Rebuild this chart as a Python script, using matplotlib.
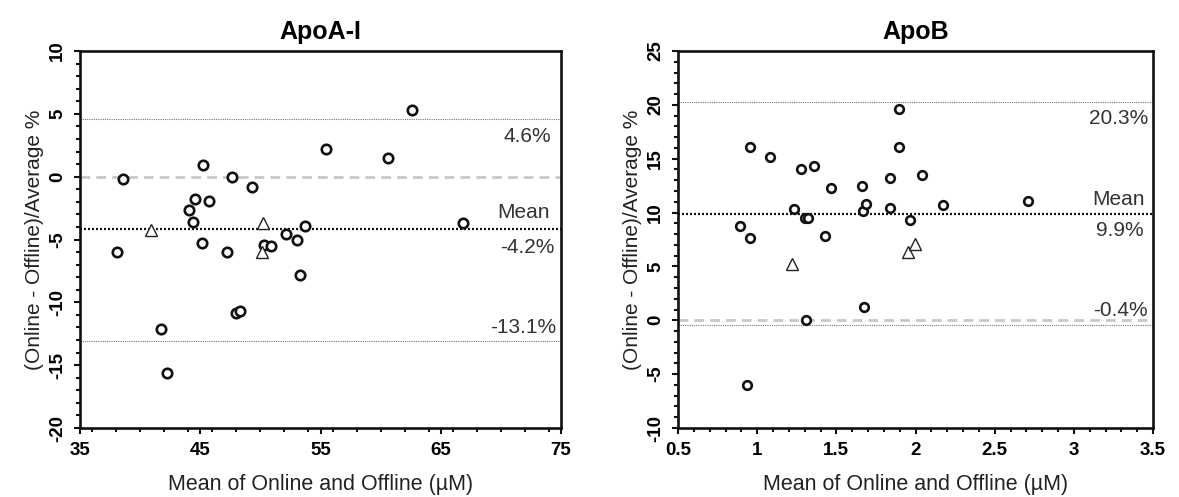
import matplotlib
matplotlib.use("Agg")
import matplotlib.pyplot as plt
from matplotlib.ticker import MultipleLocator

plt.rcParams['font.family'] = ['Liberation Sans', 'DejaVu Sans']
plt.rcParams['axes.unicode_minus'] = False

# ---------------- data ----------------
apoa_circ_x = [38.6, 38.1, 41.75, 42.25, 44.07, 44.54, 44.38, 45.23, 45.13, 45.76,
               47.24, 47.61, 47.96, 48.33, 49.27, 50.28, 50.9, 52.1, 53.04, 53.26,
               53.73, 55.45, 60.63, 62.64, 66.84]
apoa_circ_y = [-0.2, -6.0, -12.1, -15.65, -2.67, -1.81, -3.6, 0.93, -5.25, -1.95,
               -5.97, -0.05, -10.88, -10.67, -0.85, -5.41, -5.52, -4.53, -5.07, -7.84,
               -3.92, 2.21, 1.49, 5.33, -3.65]
apoa_tri_x = [40.93, 50.22, 50.12]
apoa_tri_y = [-4.21, -3.65, -6.0]
apoa_stats = {"upper": 4.6, "mean": -4.2, "lower": -13.1}
apoa_xticks = [35, 45, 55, 65, 75]
apoa_xticklabels = ["35", "45", "55", "65", "75"]
apoa_yticks = [-20, -15, -10, -5, 0, 5, 10]
apoa_yticklabels = ["-20", "-15", "-10", "-5", "0", "5", "10"]

apob_circ_x = [0.892, 0.953, 0.956, 0.934, 1.084, 1.233, 1.276, 1.305, 1.321, 1.307,
               1.362, 1.43, 1.466, 1.661, 1.67, 1.687, 1.677, 1.836, 1.836, 1.896,
               1.893, 1.967, 2.038, 2.171, 2.712]
apob_circ_y = [8.75, 7.64, 16.1, -6.05, 15.2, 10.3, 14.03, 9.49, 9.49, 0.0,
               14.34, 7.85, 12.24, 12.49, 10.17, 10.82, 1.24, 13.23, 10.42, 19.66,
               16.1, 9.34, 13.5, 10.67, 11.07]
apob_tri_x = [1.219, 1.95, 1.998]
apob_tri_y = [5.2, 6.37, 7.05]
apob_stats = {"upper": 20.3, "mean": 9.9, "lower": -0.4}
apob_xticks = [0.5, 1, 1.5, 2, 2.5, 3, 3.5]
apob_xticklabels = ["0.5", "1", "1.5", "2", "2.5", "3", "3.5"]
apob_yticks = [-10, -5, 0, 5, 10, 15, 20, 25]
apob_yticklabels = ["-10", "-5", "0", "5", "10", "15", "20", "25"]

titles = ["ApoA-I", "ApoB"]
xlabel = "Mean of Online and Offline (\u00b5M)"
ylabel = "(Online - Offline)/Average %"

W, H = 1179, 497
fig = plt.figure(figsize=(W / 100, H / 100), dpi=100)
fig.patch.set_facecolor("white")

TICK_FS = 13.5


def px_axes(x0, x1, y0, y1):
    return fig.add_axes([x0 / W, 1 - y1 / H, (x1 - x0) / W, (y1 - y0) / H])


def style_axes(ax, xlim, ylim, xticks, xticklabels, xmin, yticks, yticklabels, ymin):
    for s in ax.spines.values():
        s.set_linewidth(1.9)
        s.set_color("#111111")
    ax.tick_params(which="both", direction="out", width=1.5, color="#111111",
                   labelsize=TICK_FS)
    ax.tick_params(which="major", length=4)
    ax.tick_params(which="minor", length=3)
    ax.tick_params(axis="x", which="major", pad=6)
    ax.tick_params(axis="y", which="major", pad=6)
    ax.set_xticks(xticks)
    ax.set_xticklabels(xticklabels, fontweight="bold", fontsize=TICK_FS)
    ax.set_yticks(yticks)
    ax.set_yticklabels(yticklabels, fontweight="bold", fontsize=TICK_FS,
                       rotation=90, va="center", ha="right")
    ax.xaxis.set_minor_locator(MultipleLocator(xmin))
    ax.yaxis.set_minor_locator(MultipleLocator(ymin))
    ax.set_xlim(*xlim)
    ax.set_ylim(*ylim)
    ax.set_xlabel(xlabel, fontsize=15.5, color="#222222", labelpad=11)
    ax.set_ylabel(ylabel, fontsize=15, color="#222222", labelpad=4)


def draw_panel(ax, cx, cy, tx, ty, stats, ms_c):
    ax.axhline(0, color="#c8c8c8", lw=2.0, dashes=(3.5, 2.2), zorder=1)
    ax.axhline(stats["upper"], color="#777777", lw=0.8, dashes=(1, 1), zorder=1)
    ax.axhline(stats["lower"], color="#777777", lw=0.8, dashes=(1, 1), zorder=1)
    ax.axhline(stats["mean"], color="#111111", lw=1.6, dashes=(0.9, 0.9), zorder=1)
    ax.plot(cx, cy, linestyle="none", marker="o", ms=ms_c, mfc="white",
            mec="#111111", mew=1.9, zorder=3)
    ax.plot(tx, ty, linestyle="none", marker="^", ms=8, mfc="white",
            mec="#222222", mew=1.0, zorder=3)


tk = dict(fontsize=15, color="#333333", ha="right", va="center")

# ---------------- left panel ----------------
axL = px_axes(80, 561, 51, 428)
draw_panel(axL, apoa_circ_x, apoa_circ_y, apoa_tri_x, apoa_tri_y, apoa_stats, 6.8)
style_axes(axL, (35, 75), (-20, 10), apoa_xticks, apoa_xticklabels, 2,
           apoa_yticks, apoa_yticklabels, 1)
axL.set_title(titles[0], fontsize=18, fontweight="bold", pad=9)
axL.text(74.2, 3.2, "%.1f%%" % apoa_stats["upper"], **tk)
axL.text(74.1, -2.85, "Mean", **tk)
axL.text(74.5, -5.6, "%.1f%%" % apoa_stats["mean"], **tk)
axL.text(74.6, -12.0, "%.1f%%" % apoa_stats["lower"], **tk)

# ---------------- right panel ----------------
axR = px_axes(678, 1153, 51, 428)
draw_panel(axR, apob_circ_x, apob_circ_y, apob_tri_x, apob_tri_y, apob_stats, 6.2)
style_axes(axR, (0.5, 3.5), (-10, 25), apob_xticks, apob_xticklabels, 0.1,
           apob_yticks, apob_yticklabels, 1)
axR.set_title(titles[1], fontsize=18, fontweight="bold", pad=9)
axR.text(3.47, 18.7, "%.1f%%" % apob_stats["upper"], **tk)
axR.text(3.448, 11.25, "Mean", **tk)
axR.text(3.44, 8.38, "%.1f%%" % apob_stats["mean"], **tk)
axR.text(3.465, 0.9, "%.1f%%" % apob_stats["lower"], **tk)

fig.savefig("out.png", dpi=100, facecolor="white")
